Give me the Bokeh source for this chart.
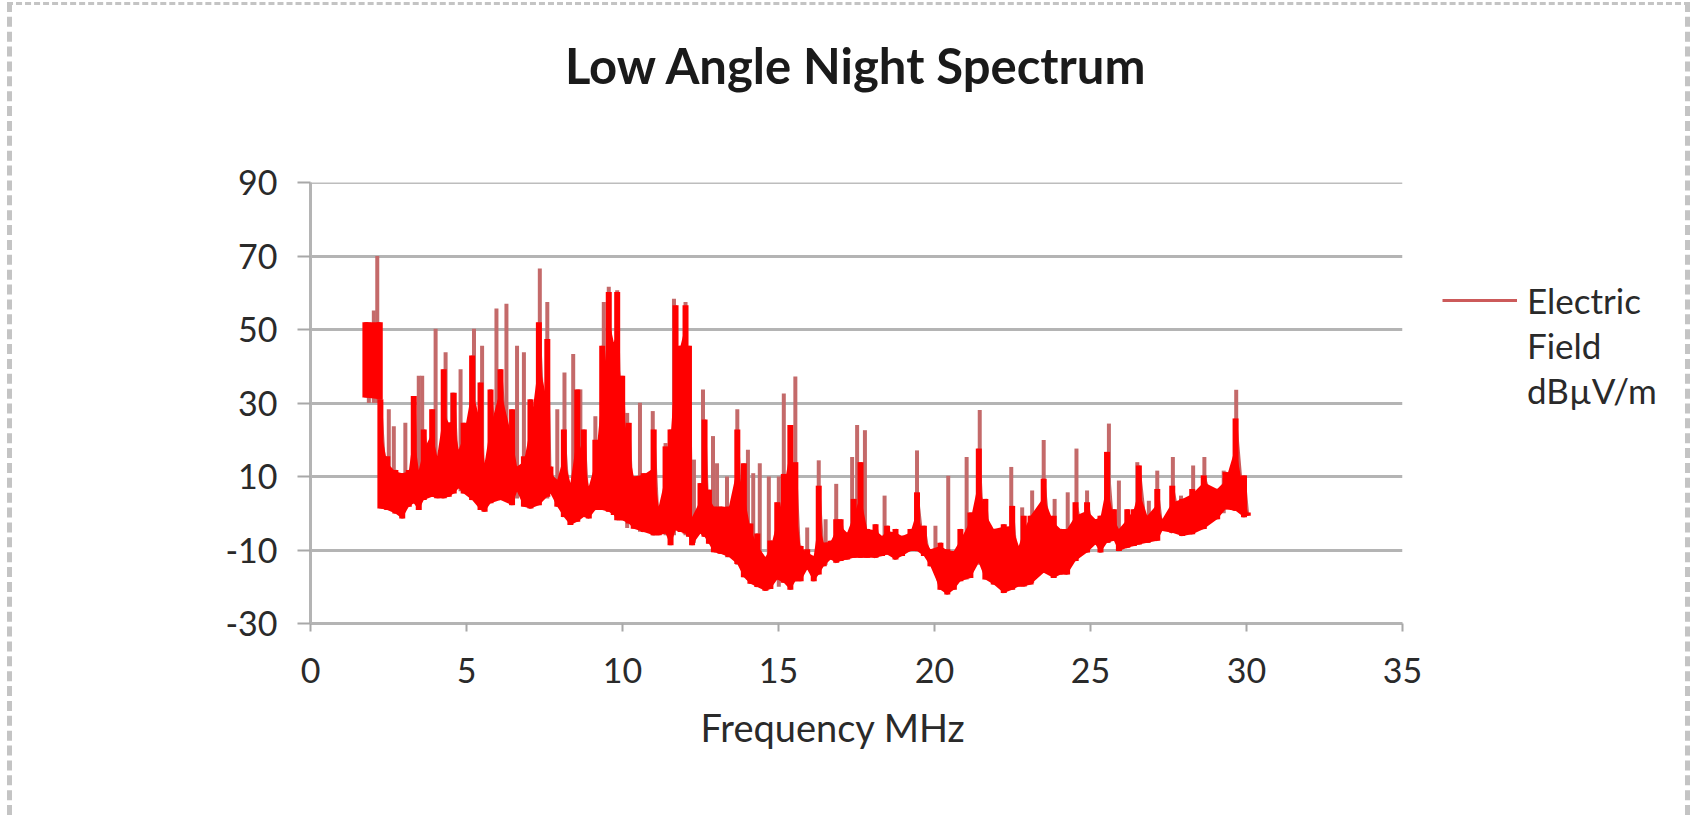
from bokeh.plotting import figure
from bokeh.models import Legend, LegendItem, FixedTicker, Range1d, Span, Title
from bokeh.embed import file_html
from bokeh.resources import INLINE

TITLE = "Low Angle Night Spectrum"
X_LABEL = "Frequency MHz"
SERIES = ["Electric", "Field", "dBµV/m"]
x_ticks = [0, 5, 10, 15, 20, 25, 30, 35]
y_ticks = [-30, -10, 10, 30, 50, 70, 90]

core_f = [1.76,2.22,2.24,2.46,2.72,2.94,3.15,3.31,3.47,3.63,3.90,4.06,4.27,4.43,4.59,4.75,4.91,5.18,5.45,5.58,5.77,6.09,6.46,6.62,6.84,7.05,7.32,7.59,7.69,7.91,8.12,8.33,8.55,8.76,8.92,9.13,9.35,9.56,9.72,9.83,9.99,10.2,10.36,10.68,11.0,11.16,11.38,11.54,11.70,11.86,12.02,12.13,12.23,12.50,12.63,12.77,12.93,13.14,13.41,13.68,13.89,14.10,14.32,14.58,14.74,
          14.96,15.17,15.38,15.54,15.71,15.92,16.13,16.29,16.45,16.67,16.85,16.99,17.2,17.41,17.63,17.84,18.11,18.32,18.48,18.75,18.96,19.23,19.44,19.66,19.87,20.19,20.41,20.62,20.83,21.15,21.42,21.63,21.90,22.22,22.49,22.70,22.86,23.08,23.50,23.82,24.04,24.25,24.52,24.89,25.16,25.32,25.53,25.75,25.91,26.18,26.39,26.55,26.82,27.14,27.30,27.62,27.94,28.26,28.63,29.06,29.33,29.65,29.92,30.04]
core_top = [52.0,52.0,31.0,15.5,11.8,10.9,11.8,31.9,11.8,22.8,28.3,15.5,39.2,24.6,32.8,17.3,24.6,42.9,35.6,13.6,33.7,39.2,28.3,12.7,15.5,31.0,52.0,47.4,12.7,9.1,22.8,8.2,33.7,22.8,7.3,20.0,45.6,60.2,46.5,60.2,37.4,24.6,10.0,10.9,22.8,1.8,18.2,22.8,56.6,45.6,56.6,45.6,-1.0,8.2,25.5,6.4,1.8,1.8,1.8,22.8,13.6,-2.8,-5.5,-11.9,-7.4,
            3.0,10.7,24.0,13.9,-8.9,-9.8,-11.6,7.5,-8.0,-7.5,-1.6,-1.6,-5.3,3.9,13.9,-4.3,-3.0,-6.2,-3.4,-4.3,-6.2,-4.3,5.7,-3.4,-9.8,-8.0,-9.8,-10.3,-4.3,0.2,17.6,3.9,-4.3,-3.0,2.0,-8.9,-0.7,-0.7,9.4,-0.7,-4.3,-4.3,3.0,3.0,-1.6,-0.7,16.7,1.1,-4.3,1.1,1.1,13.0,-0.7,6.6,-1.6,7.5,3.9,6.6,10.3,6.6,11.2,25.8,10.3,0.2]
core_low = [31.5,31.0,1.3,0.9,-0.1,-1.4,1.8,2.7,0.9,3.6,4.5,4.1,4.1,4.5,5.4,6.8,5.4,3.6,0.9,0.4,2.7,3.6,2.2,5.9,1.8,1.3,2.2,4.5,5.4,1.8,-1.0,-3.2,-2.3,-1.0,-1.4,0.9,0.9,0.4,-0.5,-1.9,-1.9,-2.8,-4.2,-5.1,-6.0,-6.0,-5.5,-8.7,-4.6,-5.1,-5.5,-6.4,-8.7,-5.5,-6.4,-8.3,-10.6,-11.0,-11.9,-13.8,-17.4,-19.2,-20.1,-21.1,-20.6,
            -18.0,-18.9,-20.8,-18.5,-18.5,-15.3,-18.5,-16.7,-14.4,-12.6,-13.5,-13.0,-12.6,-12.1,-12.1,-12.1,-12.1,-11.6,-11.2,-12.6,-11.6,-10.3,-10.3,-11.6,-14.4,-20.8,-22.1,-20.8,-18.5,-17.6,-13.5,-18.0,-19.4,-21.7,-20.8,-19.9,-19.9,-19.4,-16.2,-17.6,-16.7,-16.7,-13.0,-10.7,-8.5,-10.7,-8.0,-7.5,-10.3,-9.4,-8.9,-8.5,-8.0,-7.5,-4.8,-5.3,-6.2,-5.7,-4.3,-1.6,1.1,0.7,-1.1,-0.7]

peak_f = [1.87,2.03,2.14,2.51,2.67,3.04,3.47,3.58,4.01,4.33,4.54,4.81,5.24,5.50,5.96,6.28,6.62,6.84,7.35,7.59,7.91,8.14,8.42,8.65,9.13,9.40,9.56,9.83,10.15,10.56,10.97,11.38,11.65,12.02,12.29,12.58,12.90,13.03,13.35,13.68,14.02,14.19,14.40,14.69,15.01,
          15.17,15.54,15.92,16.29,16.51,16.85,17.36,17.52,17.77,18.40,19.44,20.03,20.44,21.03,21.45,22.46,22.81,23.13,23.50,23.85,24.27,24.55,24.89,25.59,25.91,26.50,26.87,27.14,27.64,27.90,28.29,28.65,29.27,29.67]
peak_top = [52,55.2,70,28.3,23.7,24.6,37.4,37.4,50.2,43.8,32.8,39.2,50.2,45.6,55.7,57,45.6,43.8,66.6,57.5,28.3,38.3,43.3,33.7,26.4,57.5,61.6,60.7,27.3,30.1,27.8,19.1,58.4,57.5,14.6,33.7,21,13.6,10,28.3,17.3,10.9,13.6,10,10,
            32.6,37.2,-3.9,14.4,-1.6,8,15.3,24,22.6,4.8,17.1,-3.4,10.2,15.3,28.1,12.6,1.6,6.2,19.9,3.9,5.7,17.6,6.2,24.4,8.9,13.9,3.4,11.6,15.3,4.8,13,15.3,11.6,33.6]
peak_base = [30,30,30,2,2,2,4,4,6,6,6,6,6,2,4,4,4,4,4,4,2,0,0,0,2,2,2,0,-4,-5,-6,-6,-6,-6,-8,-6,-10,-10,-12,-14,-18,-19,-20,-20,-20,
             -18,-18,-15,-16,-14,-13,-12,-12,-12,-11,-10,-14,-20,-18,-14,-20,-19,-19,-16,-17,-16,-13,-10,-8,-10,-8,-8,-7,-5,-6,-5,-4,0,1]

FRAME_W, FRAME_H = 1092, 441
W, H = 1683, 813
p = figure(width=W, height=H, frame_width=FRAME_W, frame_height=FRAME_H,
           output_backend="svg", toolbar_location=None,
           x_range=Range1d(0, 35), y_range=Range1d(-30, 90),
           min_border_left=298, min_border_right=0, min_border_top=177, min_border_bottom=195,
           margin=(2, 0, 0, 7),
           background_fill_color="white", border_fill_color="white", outline_line_color=None,
           styles={"border-left": "5px dashed #c4c4c4", "border-top": "3px dashed #c4c4c4",
                   "border-right": "5px dashed #c4c4c4",
                   "width": f"{W}px", "height": f"{H}px", "overflow": "hidden"})

p.title.text = TITLE
p.title.align = "center"
p.title.text_font = "Lato"
p.title.text_font_size = "49px"
p.title.text_font_style = "bold"
p.title.text_color = "#1a1a1a"
p.title.standoff = 0
p.add_layout(Title(text=" ", text_font_size="1px", standoff=86), "above")

for ax, ticks in ((p.xaxis[0], x_ticks), (p.yaxis[0], y_ticks)):
    ax.ticker = FixedTicker(ticks=ticks)
    ax.axis_line_color = "#b4b4b4"
    ax.axis_line_width = 3
    ax.major_tick_line_color = "#a8a8a8"
    ax.major_tick_line_width = 2
    ax.major_tick_in = 0
    ax.minor_tick_line_color = None
    ax.major_label_text_font = "Lato"
    ax.major_label_text_font_size = "34px"
    ax.major_label_text_color = "#2a2a2a"
p.xaxis[0].major_tick_out = 8
p.xaxis[0].major_label_standoff = 26
p.yaxis[0].major_tick_out = 13
p.yaxis[0].major_label_standoff = 20
p.yaxis[0].major_label_overrides = {t: str(t) for t in y_ticks}

p.xgrid.visible = False
p.ygrid[0].ticker = FixedTicker(ticks=y_ticks)
p.ygrid[0].grid_line_color = "#b4b4b4"
p.ygrid[0].grid_line_width = 3
p.ygrid[0].level = "underlay"
p.add_layout(Span(location=y_ticks[-1], dimension="width", line_color="#bdbdbd", line_width=3, level="underlay"))

zig_x, zig_y = [], []
for f, t, l in zip(core_f, core_top, core_low):
    zig_x += [f, f]
    zig_y += [l, t]
line = p.line(zig_x, zig_y, line_color="#cc5a5a", line_width=3)
p.segment(peak_f, peak_base, peak_f, peak_top, line_color="#c46a6a", line_width=4)
# solid body: part-way up towards each top, so the narrow peaks keep open notches between them
neighbour_min = [min(core_top[max(i - 1, 0):i + 2]) for i in range(len(core_top))]
body_top = [t if i < 2 else max((m + t) / 2, l)
            for i, (m, t, l) in enumerate(zip(neighbour_min, core_top, core_low))]
p.varea(core_f[:2], core_low[:2], body_top[:2], fill_color="#ff0000")
p.varea(core_f[2:], core_low[2:], body_top[2:], fill_color="#ff0000")
p.segment(core_f, core_low, core_f, core_top, line_color="#ff0000", line_width=6)

legend = Legend(items=[LegendItem(label=SERIES[0], renderers=[line]),
                       LegendItem(label=SERIES[1], renderers=[]),
                       LegendItem(label=SERIES[2], renderers=[])],
                location=(40, 211), background_fill_alpha=0, border_line_color=None,
                padding=0, margin=0, spacing=0, glyph_width=75, glyph_height=20, label_standoff=10,
                label_height=45,
                label_text_font="Lato", label_text_font_size="35px", label_text_color="#2a2a2a")
p.add_layout(legend, "right")

p.add_layout(Title(text=X_LABEL, align="left", offset=390, standoff=33, text_font="Lato",
                   text_font_size="38px", text_font_style="normal", text_color="#2a2a2a"), "below")

open("out.html", "w").write(file_html(p, INLINE))
